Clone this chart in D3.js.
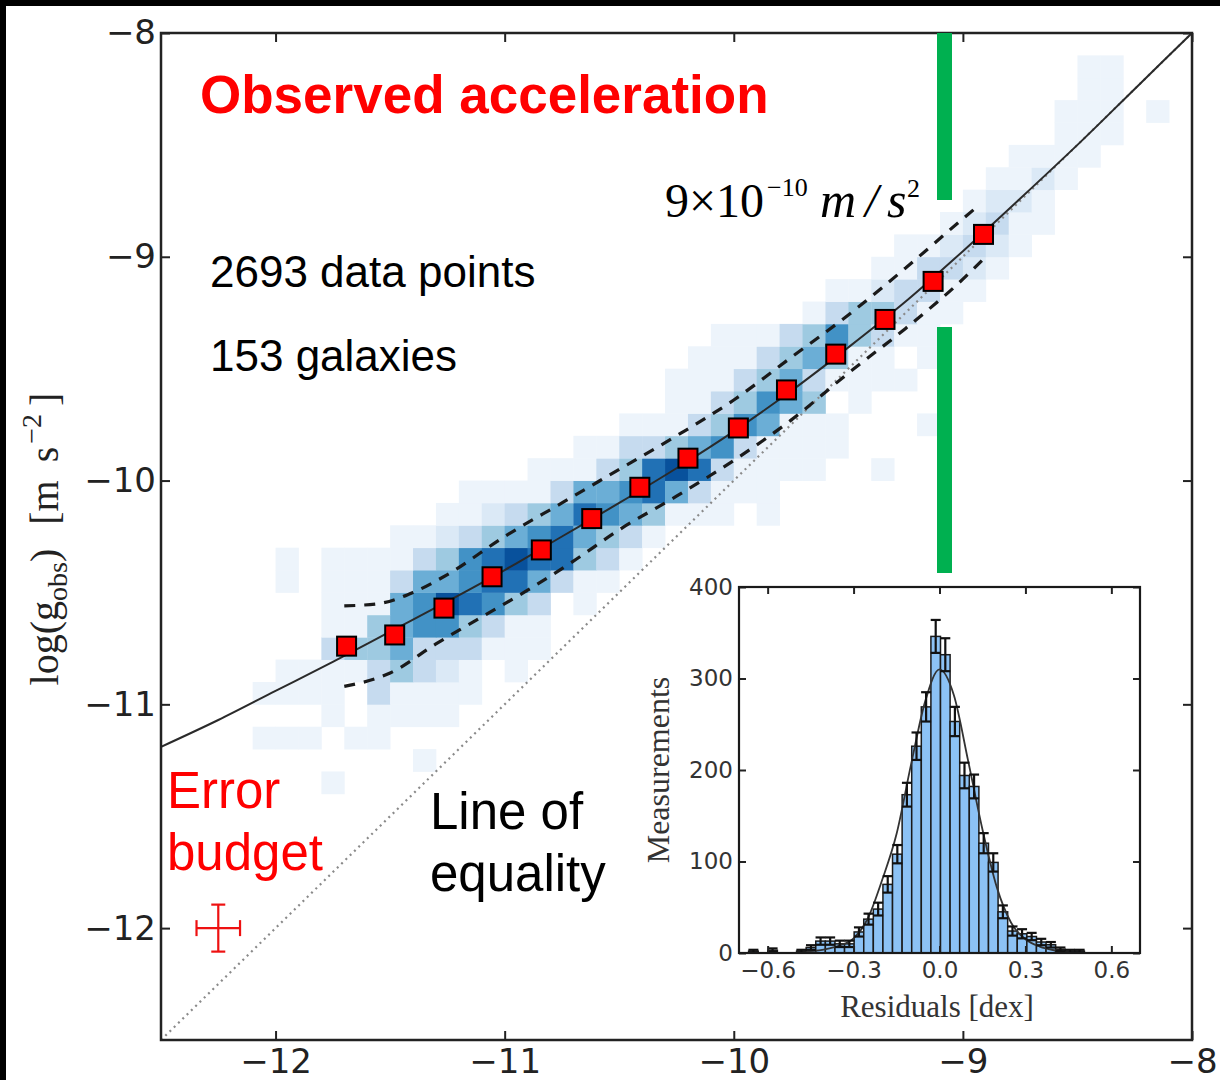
<!DOCTYPE html>
<html>
<head>
<meta charset="utf-8">
<script src="https://cdn.jsdelivr.net/npm/d3@7"></script>
<style>
body { margin: 0; background: #fff; }
svg { display: block; }
</style>
</head>
<body>
<svg id="chart" width="1220" height="1080"></svg>
<script>
// 2D histogram, one entry per row of log(g_obs) bins (0.1 dex)
// rowLow = lower edge of the row, rowFirst = left edge of first log(g_bar) bin, rowLevels = shade level per bin
var binSize = 0.1;
var rowLow = [-11.4, -11.3, -11.2, -11.1, -11.0, -10.9, -10.8, -10.7, -10.6, -10.5, -10.4, -10.3, -10.2, -10.1, -10.0,
	-9.9, -9.8, -9.7, -9.6, -9.5, -9.4, -9.3, -9.2, -9.1, -9.0, -8.9, -8.8, -8.7, -8.6, -8.5, -8.4, -8.3, -8.2];
var rowFirst = [-11.8, -11.4, -12.1, -11.8, -12.1, -12.0, -11.8, -11.8, -11.8, -12.0, -12.0, -11.5, -11.3, -11.2, -10.9,
	-10.7, -10.5, -10.3, -10.3, -10.2, -10.1, -9.7, -9.6, -9.4, -9.3, -9.1, -9.0, -8.9, -8.8, -8.6, -8.6, -8.5, -8.5];
var rowLevels = [
	[1],
	[1],
	[1,1,1,0,1,1],
	[1,0,1,1,1,1],
	[1,1,1,1,0,3,1,1,1,1],
	[1,1,1,1,3,4,3,2,1,0,1],
	[3,4,4,5,3,3,3,1,1,1],
	[1,1,4,5,6,6,4,3,1,1],
	[1,1,1,5,6,8,7,6,4,3,0,1],
	[1,0,1,1,1,3,5,5,6,7,7,5,3,1,1],
	[1,0,1,1,1,1,3,4,6,7,8,7,7,4,3,1],
	[1,1,2,3,4,5,6,7,5,4,3,1],
	[1,1,2,3,4,5,7,6,5,4,1,1,1,0,1],
	[1,1,1,1,3,5,5,6,7,5,3,1,1,1],
	[1,1,1,3,4,7,8,7,3,1,1,1,1,0,0,1],
	[1,1,3,3,4,5,6,3,1,1,1,1],
	[1,1,1,3,4,6,5,1,1,1,0,0,0,1],
	[1,1,3,4,6,5,4,0,1],
	[1,1,1,3,4,5,3,1,1,1,1],
	[1,1,1,3,4,5,4,1,1,0,1],
	[1,1,1,3,4,6,4,3,1,1],
	[1,3,4,4,3,1,1],
	[1,1,2,3,3,1,1],
	[1,1,3,3,2,1],
	[1,1,2,3,2,1],
	[1,2,3,1,1],
	[1,2,2,1],
	[1,1,2,1],
	[1,1,1,1],
	[1,1,1],
	[1,1,1,0,1],
	[1,1],
	[1,1]
];
var heatColors = ["#ffffff", "#edf4fb", "#dbe9f6", "#c6dbef", "#9ecae1", "#6baed6", "#4292c6", "#2171b5", "#08519c"];

// fitted relation
var fitX = [-12.5, -12.25, -12, -11.75, -11.5, -11.25, -11, -10.75, -10.5, -10.25, -10, -9.75, -9.5, -9.25, -9, -8.75, -8.5, -8.25, -8];
var fitY = [-11.19, -11.07, -10.94, -10.81, -10.675, -10.54, -10.40, -10.25, -10.10, -9.945, -9.78, -9.60, -9.405, -9.20, -8.975, -8.74, -8.50, -8.25, -8.0];

// rms scatter (dashed)
var upperX = [-11.70, -11.55, -11.40, -11.25, -11.0, -10.75, -10.5, -10.25, -10.0, -9.75, -9.5, -9.25, -9.0, -8.93];
var upperY = [-10.56, -10.55, -10.50, -10.42, -10.25, -10.10, -9.95, -9.80, -9.64, -9.45, -9.26, -9.05, -8.83, -8.77];
var lowerX = [-11.70, -11.5, -11.3, -11.1, -10.9, -10.7, -10.5, -10.25, -10.0, -9.75, -9.5, -9.25, -9.0, -8.91];
var lowerY = [-10.92, -10.86, -10.73, -10.61, -10.49, -10.36, -10.22, -10.07, -9.91, -9.73, -9.52, -9.32, -9.10, -9.01];

// binned means (red squares)
var binnedX = [-11.69, -11.48, -11.265, -11.055, -10.84, -10.62, -10.41, -10.2, -9.98, -9.77, -9.555, -9.34, -9.13, -8.91];
var binnedY = [-10.74, -10.69, -10.57, -10.43, -10.31, -10.17, -10.03, -9.90, -9.765, -9.595, -9.435, -9.28, -9.11, -8.90];

// error budget cross
var errX = -12.25, errY = -12.0, errDx = 0.095, errDy = 0.105;

var mainTicks = [-12, -11, -10, -9, -8];

// residual histogram (inset)
var resBinLo = -0.7, resBinWidth = 0.0335;
var resCounts = [0,2,0,3,0,0,2,6,13,13,10,10,23,37,48,75,108,173,226,269,346,326,253,194,182,120,99,45,24,21,18,12,9,4,2,2,0,0,0,0,0];
var resErrors = [0,1.5,0,2,0,0,1.5,2.5,4,4,3.5,3.5,5,6,7,9,10,13,15,16,18,18,16,14,13,11,10,7,5,5,4,3.5,3,2,1.5,1.5,0,0,0,0,0];
var resFitX = [-0.5, -0.45, -0.4, -0.35, -0.3, -0.25, -0.2, -0.15, -0.1, -0.05, 0, 0.05, 0.1, 0.15, 0.2, 0.25, 0.3, 0.35, 0.4, 0.45];
var resFitY = [1, 2, 4, 8, 16, 38, 80, 130, 205, 275, 310, 282, 210, 135, 72, 33, 15, 7, 3, 1];
var resXTicks = [-0.6, -0.3, 0, 0.3, 0.6];
var resYTicks = [0, 100, 200, 300, 400];

var svg = d3.select("#chart");

var x = d3.scaleLinear().domain([-12.5, -8]).range([161, 1192]);
var y = d3.scaleLinear().domain([-12.5, -8]).range([1040, 33]);

// heatmap
var cells = [];
for(var r = 0; r < rowLow.length; r++)
	for(var c = 0; c < rowLevels[r].length; c++)
		if(rowLevels[r][c] > 0)
			cells.push({gx: Math.round((rowFirst[r] + c*binSize)*10)/10, gy: rowLow[r], lev: rowLevels[r][c]});

svg.append("g").selectAll("rect")
	.data(cells)
	.enter().append("rect")
		.attr("x", function(d) { return x(d.gx); })
		.attr("y", function(d) { return y(d.gy + binSize); })
		.attr("width", function(d) { return x(d.gx + binSize) - x(d.gx) + 0.4; })
		.attr("height", function(d) { return y(d.gy) - y(d.gy + binSize) + 0.4; })
		.attr("fill", function(d) { return heatColors[d.lev]; });

// line of equality
svg.append("line")
	.attr("x1", x(-12.5)).attr("y1", y(-12.5))
	.attr("x2", x(-8)).attr("y2", y(-8))
	.attr("stroke", "#8a8a8a")
	.attr("stroke-width", 2.2)
	.attr("stroke-dasharray", "2,4");

var line = d3.line()
	.x(function(d) { return x(d[0]); })
	.y(function(d) { return y(d[1]); })
	.curve(d3.curveMonotoneX);

svg.append("path")
	.attr("d", line(d3.zip(fitX, fitY)))
	.attr("fill", "none")
	.attr("stroke", "#2a2a2a")
	.attr("stroke-width", 2);

[d3.zip(upperX, upperY), d3.zip(lowerX, lowerY)].forEach(function(pts) {
	svg.append("path")
		.attr("d", line(pts))
		.attr("fill", "none")
		.attr("stroke", "#1a1a1a")
		.attr("stroke-width", 3.2)
		.attr("stroke-dasharray", "11,9");
});

svg.append("g").selectAll("rect")
	.data(d3.zip(binnedX, binnedY))
	.enter().append("rect")
		.attr("x", function(d) { return x(d[0]) - 9.5; })
		.attr("y", function(d) { return y(d[1]) - 9.5; })
		.attr("width", 19)
		.attr("height", 19)
		.attr("fill", "#ff0000")
		.attr("stroke", "#000")
		.attr("stroke-width", 2);

// error budget
var eb = svg.append("g").attr("stroke", "#ee1111").attr("stroke-width", 2.2);
eb.append("line").attr("x1", x(errX - errDx)).attr("x2", x(errX + errDx)).attr("y1", y(errY)).attr("y2", y(errY));
eb.append("line").attr("x1", x(errX)).attr("x2", x(errX)).attr("y1", y(errY - errDy)).attr("y2", y(errY + errDy));
eb.append("line").attr("x1", x(errX - errDx)).attr("x2", x(errX - errDx)).attr("y1", y(errY) - 8).attr("y2", y(errY) + 8);
eb.append("line").attr("x1", x(errX + errDx)).attr("x2", x(errX + errDx)).attr("y1", y(errY) - 8).attr("y2", y(errY) + 8);
eb.append("line").attr("x1", x(errX) - 7).attr("x2", x(errX) + 7).attr("y1", y(errY - errDy)).attr("y2", y(errY - errDy));
eb.append("line").attr("x1", x(errX) - 7).attr("x2", x(errX) + 7).attr("y1", y(errY + errDy)).attr("y2", y(errY + errDy));

// main axes
function styleAxis(g, size, color) {
	g.select(".domain").remove();
	g.selectAll(".tick line").attr("stroke", "#222").attr("stroke-width", 2);
	g.selectAll(".tick text").attr("font-family", "DejaVu Sans").attr("font-size", size).attr("fill", color);
}

svg.append("g").attr("transform", "translate(0,1040)")
	.call(d3.axisBottom(x).tickValues(mainTicks).tickFormat(d3.format("d")).tickSize(-9).tickPadding(9))
	.call(styleAxis, 34, "#222");
svg.append("g").attr("transform", "translate(0,33)")
	.call(d3.axisTop(x).tickValues(mainTicks).tickFormat("").tickSize(-9))
	.call(styleAxis, 34, "#222");
svg.append("g").attr("transform", "translate(161,0)")
	.call(d3.axisLeft(y).tickValues(mainTicks).tickFormat(d3.format("d")).tickSize(-9).tickPadding(5))
	.call(styleAxis, 34, "#222");
svg.append("g").attr("transform", "translate(1192,0)")
	.call(d3.axisRight(y).tickValues(mainTicks).tickFormat("").tickSize(-9))
	.call(styleAxis, 34, "#222");

svg.append("rect")
	.attr("x", 161).attr("y", 33)
	.attr("width", 1192 - 161).attr("height", 1040 - 33)
	.attr("fill", "none")
	.attr("stroke", "#222")
	.attr("stroke-width", 2.5);

// y axis label
var yl = svg.append("text")
	.attr("transform", "translate(58,539) rotate(-90)")
	.attr("text-anchor", "middle")
	.attr("font-family", "Liberation Serif").attr("font-size", 40).attr("fill", "#222");
yl.append("tspan").text("log(g");
yl.append("tspan").attr("font-size", 28).attr("dy", 9).text("obs");
yl.append("tspan").attr("dy", -9).text(")");
yl.append("tspan").attr("dx", 24).text("[m");
yl.append("tspan").attr("dx", 18).text("s");
yl.append("tspan").attr("font-size", 28).attr("dx", 3).attr("dy", -17).text("\u22122");
yl.append("tspan").attr("dx", 8).attr("dy", 17).text("]");

// annotations
svg.append("text").attr("x", 200).attr("y", 113)
	.attr("font-family", "Liberation Sans").attr("font-weight", "bold").attr("font-size", 53)
	.attr("fill", "#ff0000").text("Observed acceleration");
svg.append("text").attr("x", 210).attr("y", 287)
	.attr("font-family", "Liberation Sans").attr("font-size", 44).text("2693 data points");
svg.append("text").attr("x", 210).attr("y", 371)
	.attr("font-family", "Liberation Sans").attr("font-size", 44).text("153 galaxies");
svg.append("text").attr("x", 167).attr("y", 808)
	.attr("font-family", "Liberation Sans").attr("font-size", 51).attr("fill", "#ff0000").text("Error");
svg.append("text").attr("x", 167).attr("y", 870)
	.attr("font-family", "Liberation Sans").attr("font-size", 51).attr("fill", "#ff0000").text("budget");
svg.append("text").attr("x", 430).attr("y", 829)
	.attr("font-family", "Liberation Sans").attr("font-size", 51).text("Line of");
svg.append("text").attr("x", 430).attr("y", 891)
	.attr("font-family", "Liberation Sans").attr("font-size", 51).text("equality");

var a0 = svg.append("g").attr("font-family", "Liberation Serif").attr("fill", "#000");
a0.append("text").attr("x", 665).attr("y", 217).attr("font-size", 48).text("9\u00d710");
a0.append("text").attr("x", 767).attr("y", 196).attr("font-size", 26).text("\u221210");
a0.append("text").attr("x", 820).attr("y", 217).attr("font-size", 50).attr("font-style", "italic").text("m");
a0.append("text").attr("x", 865).attr("y", 217).attr("font-size", 48).attr("font-style", "italic").text("/");
a0.append("text").attr("x", 887).attr("y", 217).attr("font-size", 50).attr("font-style", "italic").text("s");
a0.append("text").attr("x", 907).attr("y", 197).attr("font-size", 26).text("2");

// green markers
svg.append("rect").attr("x", 937).attr("y", 33).attr("width", 15).attr("height", 167).attr("fill", "#00b050");
svg.append("rect").attr("x", 937).attr("y", 327).attr("width", 15).attr("height", 246).attr("fill", "#00b050");

// inset histogram
var xi = d3.scaleLinear().domain([-0.7, 0.7]).range([739, 1140]);
var yi = d3.scaleLinear().domain([0, 400]).range([953, 587]);

svg.append("rect")
	.attr("x", 739).attr("y", 587).attr("width", 1140 - 739).attr("height", 953 - 587)
	.attr("fill", "#fff");

var bins = [];
for(var k = 0; k < resCounts.length; k++)
	if(resCounts[k] > 0)
		bins.push({x0: resBinLo + k*resBinWidth, x1: resBinLo + (k + 1)*resBinWidth, n: resCounts[k], e: resErrors[k]});

svg.append("g").selectAll("rect")
	.data(bins)
	.enter().append("rect")
		.attr("x", function(d) { return xi(d.x0); })
		.attr("y", function(d) { return yi(d.n); })
		.attr("width", function(d) { return xi(d.x1) - xi(d.x0); })
		.attr("height", function(d) { return yi(0) - yi(d.n); })
		.attr("fill", "#8cc2f5")
		.attr("stroke", "#1a1a1a")
		.attr("stroke-width", 1.5);

svg.append("path")
	.attr("d", d3.line()
		.x(function(d) { return xi(d[0]); })
		.y(function(d) { return yi(d[1]); })
		.curve(d3.curveMonotoneX)(d3.zip(resFitX, resFitY)))
	.attr("fill", "none")
	.attr("stroke", "#333")
	.attr("stroke-width", 1.8);

var eg = svg.append("g").attr("stroke", "#111").attr("stroke-width", 2.2);
bins.forEach(function(d) {
	var cx = xi((d.x0 + d.x1)/2);
	eg.append("line").attr("x1", cx).attr("x2", cx).attr("y1", yi(d.n - d.e)).attr("y2", yi(d.n + d.e));
	eg.append("line").attr("x1", cx - 5).attr("x2", cx + 5).attr("y1", yi(d.n - d.e)).attr("y2", yi(d.n - d.e));
	eg.append("line").attr("x1", cx - 5).attr("x2", cx + 5).attr("y1", yi(d.n + d.e)).attr("y2", yi(d.n + d.e));
});

svg.append("g").attr("transform", "translate(0,953)")
	.call(d3.axisBottom(xi).tickValues(resXTicks).tickFormat(d3.format(".1f")).tickSize(-7).tickPadding(9))
	.call(styleAxis, 23, "#333");
svg.append("g").attr("transform", "translate(0,587)")
	.call(d3.axisTop(xi).tickValues(resXTicks).tickFormat("").tickSize(-7))
	.call(styleAxis, 23, "#333");
svg.append("g").attr("transform", "translate(739,0)")
	.call(d3.axisLeft(yi).tickValues(resYTicks).tickFormat(d3.format("d")).tickSize(-7).tickPadding(6))
	.call(styleAxis, 23, "#333");
svg.append("g").attr("transform", "translate(1140,0)")
	.call(d3.axisRight(yi).tickValues(resYTicks).tickFormat("").tickSize(-7))
	.call(styleAxis, 23, "#333");

svg.append("rect")
	.attr("x", 739).attr("y", 587).attr("width", 1140 - 739).attr("height", 953 - 587)
	.attr("fill", "none")
	.attr("stroke", "#1a1a1a")
	.attr("stroke-width", 2.2);

svg.append("text")
	.attr("transform", "translate(669,770) rotate(-90)")
	.attr("text-anchor", "middle")
	.attr("font-family", "Liberation Serif").attr("font-size", 32).attr("fill", "#333")
	.text("Measurements");
svg.append("text")
	.attr("x", 937).attr("y", 1017)
	.attr("text-anchor", "middle")
	.attr("font-family", "Liberation Serif").attr("font-size", 31).attr("fill", "#333")
	.text("Residuals [dex]");

// screenshot border
svg.append("rect").attr("x", 0).attr("y", 0).attr("width", 1220).attr("height", 6).attr("fill", "#000");
svg.append("rect").attr("x", 0).attr("y", 0).attr("width", 6).attr("height", 1080).attr("fill", "#000");
</script>
</body>
</html>
